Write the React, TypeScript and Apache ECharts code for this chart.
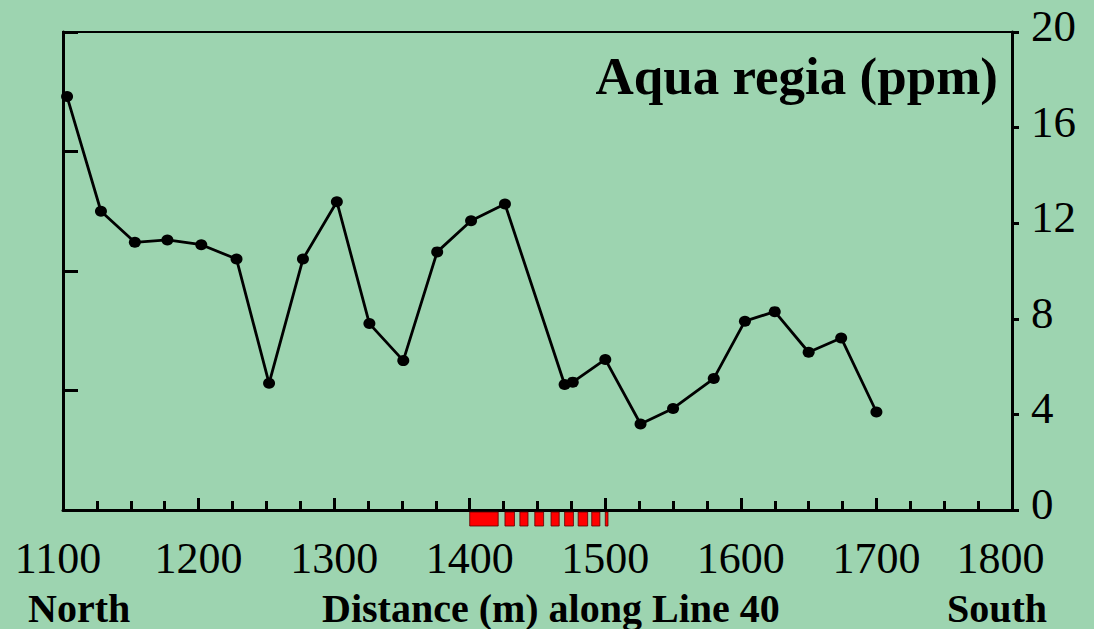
import React, { useEffect, useRef } from "react";
import * as echarts from "echarts";

// Sample positions along Line 40 (m) and aqua regia concentrations (ppm)
const distances = [
  1103, 1128, 1153, 1177, 1202, 1228, 1252, 1277, 1302, 1326, 1351, 1376, 1401,
  1426, 1470, 1476, 1500, 1526, 1550, 1580, 1603, 1625, 1650, 1674, 1700,
];
const aquaRegia = [
  17.3, 12.5, 11.2, 11.3, 11.1, 10.5, 5.3, 10.5, 12.9, 7.8, 6.25, 10.8, 12.1,
  12.8, 5.25, 5.35, 6.3, 3.6, 4.25, 5.5, 7.9, 8.3, 6.6, 7.2, 4.1,
];

// Marked zone along the traverse: [start, end] in metres
const zoneSegments: [number, number][] = [
  [1400, 1421],
  [1426, 1433],
  [1437, 1443],
  [1448, 1454.5],
  [1460, 1466],
  [1470, 1476.5],
  [1480, 1487],
  [1490, 1496],
  [1500, 1502],
];

const xTicks = { min: 1100, max: 1800, step: 100 };
const ppmTicks = { min: 0, max: 20, step: 4 };

const titleText = "Aqua regia (ppm)";
const xTitle = "Distance (m) along Line 40";
const leftEnd = "North";
const rightEnd = "South";

const BG = "#9dd4b0";
const SERIF = "'Liberation Serif', 'Times New Roman', serif";

export default function App() {
  const ref = useRef<HTMLDivElement | null>(null);

  useEffect(() => {
    document.body.style.margin = "0";
    document.body.style.background = BG;
    const chart = echarts.init(ref.current!, undefined, { renderer: "svg" });

    const points = distances.map((d, i) => [d, aquaRegia[i]]);

    chart.setOption({
      animation: false,
      backgroundColor: BG,
      textStyle: { fontFamily: SERIF },
      grid: {
        left: 63,
        right: 82,
        top: 32,
        bottom: 119,
        show: true,
        borderColor: "#000",
        borderWidth: 2,
        backgroundColor: "transparent",
      },
      graphic: [
        {
          type: "text",
          right: 96,
          top: 49,
          style: {
            text: titleText,
            font: `bold 53px ${SERIF}`,
            fill: "#000",
          },
        },
        {
          type: "text",
          left: 28,
          top: 588,
          style: { text: leftEnd, font: `bold 40px ${SERIF}`, fill: "#000" },
        },
        {
          type: "text",
          left: 322,
          top: 588,
          style: { text: xTitle, font: `bold 40px ${SERIF}`, fill: "#000" },
        },
        {
          type: "text",
          right: 47,
          top: 588,
          style: { text: rightEnd, font: `bold 40px ${SERIF}`, fill: "#000" },
        },
      ],
      xAxis: {
        type: "value",
        min: xTicks.min,
        max: xTicks.max,
        interval: xTicks.step,
        position: "bottom",
        axisLine: { show: true, onZero: false, lineStyle: { color: "#000", width: 3 } },
        axisTick: { show: true, inside: true, length: 12, lineStyle: { color: "#000", width: 3 } },
        minorTick: { show: true, splitNumber: 4, length: 9, lineStyle: { color: "#000", width: 3 } },
        splitLine: { show: false },
        axisLabel: {
          margin: 26,
          color: "#000",
          fontSize: 44,
          fontFamily: SERIF,
          formatter: (v: number) =>
            v === xTicks.min ? `{a|${v}}` : v === xTicks.max ? `{b|${v}}` : `${v}`,
          rich: {
            a: { fontSize: 44, fontFamily: SERIF, color: "#000", padding: [0, 10, 0, 0] },
            b: { fontSize: 44, fontFamily: SERIF, color: "#000", padding: [0, 23, 0, 0] },
          },
        },
      },
      yAxis: [
        {
          type: "value",
          position: "right",
          min: ppmTicks.min,
          max: ppmTicks.max,
          interval: ppmTicks.step,
          axisLine: { show: true, lineStyle: { color: "#000", width: 3 } },
          axisTick: { show: true, inside: false, length: 7, lineStyle: { color: "#000", width: 3 } },
          splitLine: { show: false },
          axisLabel: {
            margin: 19,
            color: "#000",
            fontSize: 45,
            fontFamily: SERIF,
            verticalAlign: "bottom",
            lineHeight: 12,
          },
        },
        {
          type: "value",
          position: "left",
          min: 0,
          max: 4,
          interval: 1,
          axisLine: { show: true, lineStyle: { color: "#000", width: 3 } },
          axisTick: { show: true, inside: true, length: 15, lineStyle: { color: "#000", width: 3 } },
          splitLine: { show: false },
          axisLabel: { show: false },
        },
      ],
      series: [
        {
          type: "line",
          xAxisIndex: 0,
          yAxisIndex: 0,
          data: points,
          symbol: "circle",
          symbolSize: [12, 11],
          showSymbol: true,
          itemStyle: { color: "#000" },
          lineStyle: { color: "#000", width: 2.8 },
          z: 3,
        },
        {
          type: "custom",
          xAxisIndex: 0,
          yAxisIndex: 0,
          clip: false,
          data: zoneSegments,
          renderItem: (params: any, api: any) => {
            const p0 = api.coord([api.value(0), 0]);
            const p1 = api.coord([api.value(1), 0]);
            return {
              type: "rect",
              shape: { x: p0[0], y: p0[1] + 2, width: p1[0] - p0[0], height: 14 },
              style: { fill: "#ff0000", stroke: "#5a0000", lineWidth: 0.8 },
            };
          },
          z: 4,
        },
      ],
    });

    return () => chart.dispose();
  }, []);

  return (
    <div
      ref={ref}
      style={{ position: "fixed", left: 0, top: 0, width: 1094, height: 629, background: BG }}
    />
  );
}
